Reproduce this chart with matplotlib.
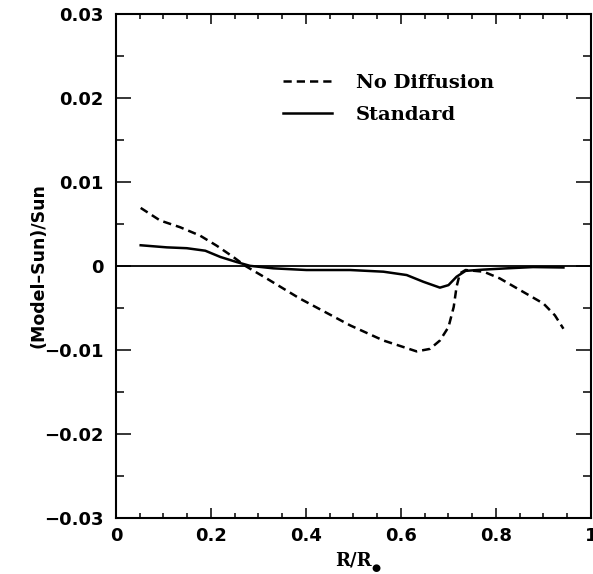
import matplotlib
matplotlib.use("Agg")
import matplotlib.pyplot as plt
from matplotlib.ticker import MultipleLocator, FixedLocator, FixedFormatter

# Data
nodiff_r = [0.052, 0.093, 0.135, 0.177, 0.212, 0.247, 0.272, 0.317, 0.387, 0.493,
            0.563, 0.633, 0.661, 0.682, 0.700, 0.711, 0.717, 0.724, 0.736, 0.774,
            0.808, 0.857, 0.900, 0.924, 0.942]
nodiff_v = [0.0069, 0.0054, 0.0046, 0.0036, 0.0024, 0.00105, 0.0, -0.0015, -0.0039, -0.0071,
            -0.0089, -0.0102, -0.0099, -0.0089, -0.0073, -0.0049, -0.0025, -0.0009, -0.0005, -0.0007,
            -0.0015, -0.0031, -0.0045, -0.0059, -0.0075]

std_r = [0.052, 0.107, 0.149, 0.188, 0.220, 0.254, 0.282, 0.331, 0.401, 0.493,
         0.563, 0.612, 0.647, 0.682, 0.700, 0.717, 0.736, 0.774, 0.823, 0.878, 0.942]
std_v = [0.00245, 0.0022, 0.0021, 0.0018, 0.00105, 0.00045, 0.0, -0.0003, -0.0005, -0.0005,
         -0.0007, -0.0011, -0.0019, -0.0026, -0.0023, -0.0013, -0.0006, -0.00045, -0.0003, -0.00015, -0.0002]

zero_r = [0.0, 1.0]
zero_v = [0.0, 0.0]

xticks = [0, 0.2, 0.4, 0.6, 0.8, 1.0]
xticklabels = ["0", "0.2", "0.4", "0.6", "0.8", "1"]
yticks = [-0.03, -0.02, -0.01, 0, 0.01, 0.02, 0.03]
yticklabels = ["\u22120.03", "\u22120.02", "\u22120.01", "0", "0.01", "0.02", "0.03"]

labels = ["No Diffusion", "Standard"]

fig = plt.figure(figsize=(5.93, 5.74), dpi=100)
ax = fig.add_axes([0.1956, 0.0984, 0.801, 0.877])

ax.plot(zero_r, zero_v, color="black", lw=1.3)
ax.plot(nodiff_r, nodiff_v, color="black", lw=1.8, linestyle=(0, (3.3, 2.0)), label=labels[0])
ax.plot(std_r, std_v, color="black", lw=1.8, label=labels[1])

ax.set_xlim(0, 1)
ax.set_ylim(-0.03, 0.03)

ax.xaxis.set_major_locator(FixedLocator(xticks))
ax.xaxis.set_major_formatter(FixedFormatter(xticklabels))
ax.xaxis.set_minor_locator(MultipleLocator(0.05))
ax.yaxis.set_major_locator(FixedLocator(yticks))
ax.yaxis.set_major_formatter(FixedFormatter(yticklabels))
ax.yaxis.set_minor_locator(MultipleLocator(0.005))

for s in ax.spines.values():
    s.set_linewidth(1.5)

ax.tick_params(axis="both", which="both", direction="in", top=True, right=True, width=1.1)
ax.tick_params(axis="x", which="major", length=7.2, pad=7)
ax.tick_params(axis="x", which="minor", length=3.6)
ax.tick_params(axis="y", which="major", length=10.8, pad=9)
ax.tick_params(axis="y", which="minor", length=5.8)

for lab in ax.get_xticklabels() + ax.get_yticklabels():
    lab.set_fontfamily("DejaVu Sans")
    lab.set_fontweight("bold")
    lab.set_fontsize(13)

xl = ax.set_xlabel("R/R", family="DejaVu Serif", fontweight="bold", fontsize=13, labelpad=4.5)
ax.annotate("\u25CF", xy=(1.0, 0.0), xycoords=xl, xytext=(0.0, 1.0), textcoords="offset points",
            ha="left", va="center", fontsize=7.5, family="DejaVu Sans")
ax.set_ylabel("(Model\u2013Sun)/Sun", family="DejaVu Sans", fontweight="bold", fontsize=12.5)
ax.yaxis.set_label_coords(-0.145, 0.5)

leg = ax.legend(loc="upper left", bbox_to_anchor=(0.315, 0.916), frameon=False,
                handlelength=2.5, handletextpad=1.25, labelspacing=0.7,
                prop={"family": "DejaVu Serif", "weight": "bold", "size": 14})

fig.savefig("out.png", dpi=100)
